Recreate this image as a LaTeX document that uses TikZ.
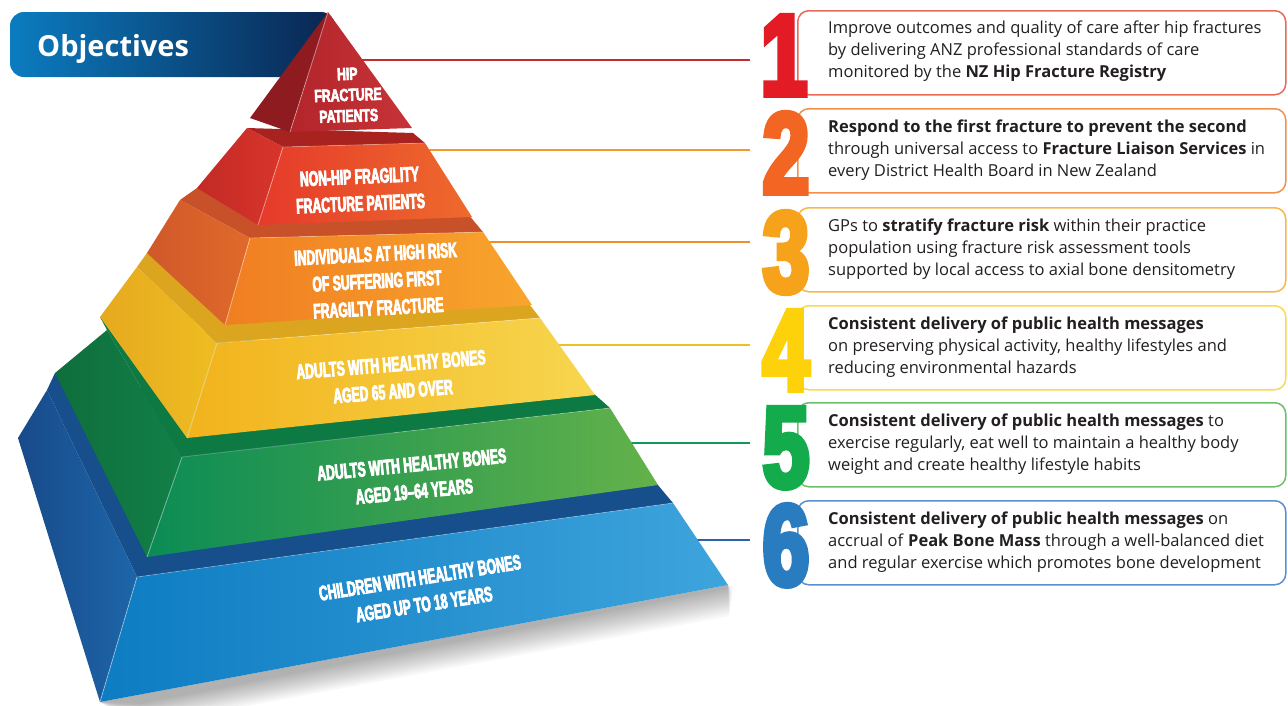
\documentclass[tikz,border=0pt]{standalone}
\usepackage{fontspec}
\setmainfont{Open Sans}
\newfontfamily\pyrfont[FakeStretch=0.58,FakeBold=3.5]{Liberation Sans}
\newfontfamily\pyrfontw[FakeStretch=0.7,FakeBold=3.5]{Liberation Sans}
\newfontfamily\numfont[FakeStretch=0.72,FakeBold=5]{Liberation Sans}
\definecolor{objL}{HTML}{0B7CC0}
\definecolor{objR}{HTML}{0A2550}
\definecolor{textc}{HTML}{231F20}
% tier colours
\definecolor{t1s}{HTML}{8E1B20}\definecolor{t1a}{HTML}{B3252B}\definecolor{t1b}{HTML}{C63438}
\definecolor{t2l}{HTML}{A82320}\definecolor{t2s}{HTML}{C22A26}\definecolor{t2t}{HTML}{D8352A}\definecolor{t2a}{HTML}{E53A2B}\definecolor{t2b}{HTML}{EE6A2C}
\definecolor{t3l}{HTML}{C9512A}\definecolor{t3s}{HTML}{D0582A}\definecolor{t3t}{HTML}{E06A2A}\definecolor{t3a}{HTML}{F07E22}\definecolor{t3b}{HTML}{F8A52D}
\definecolor{t4l}{HTML}{DBA520}\definecolor{t4s}{HTML}{E6A91F}\definecolor{t4t}{HTML}{EEBD22}\definecolor{t4a}{HTML}{F2B31C}\definecolor{t4b}{HTML}{F7D64F}
\definecolor{t5l}{HTML}{0D7A44}\definecolor{t5s}{HTML}{0F6E3C}\definecolor{t5t}{HTML}{128048}\definecolor{t5a}{HTML}{0B8C55}\definecolor{t5b}{HTML}{64B24A}
\definecolor{t6l}{HTML}{164F8C}\definecolor{t6s}{HTML}{184A8A}\definecolor{t6t}{HTML}{1D66A9}\definecolor{t6a}{HTML}{0D7CC2}\definecolor{t6b}{HTML}{3EA4DC}
% connector / number / border colours
\definecolor{c1}{HTML}{C62A2F}\definecolor{c2}{HTML}{F39A2A}\definecolor{c3}{HTML}{EF8F2B}
\definecolor{c4}{HTML}{F0C020}\definecolor{c5}{HTML}{14985A}\definecolor{c6}{HTML}{2A62AE}
\definecolor{n1}{HTML}{E21B25}\definecolor{n2}{HTML}{F26522}\definecolor{n3}{HTML}{F7A21B}
\definecolor{n4}{HTML}{FDD20A}\definecolor{n5}{HTML}{13AB4B}\definecolor{n6}{HTML}{2A7CC1}
\definecolor{b1}{HTML}{EA6A5A}\definecolor{b2}{HTML}{F3904A}\definecolor{b3}{HTML}{F7B84A}
\definecolor{b4}{HTML}{F9DA52}\definecolor{b5}{HTML}{6CC06A}\definecolor{b6}{HTML}{5C8FD0}
\begin{document}
\begin{tikzpicture}[x=1pt,y=-1pt,
  lbl/.style={text=white, font=\pyrfont\bfseries\fontsize{21}{27}\selectfont, align=center, inner sep=0},
  conn/.style={line width=2.2pt},
  obox/.style={rounded corners=11pt, line width=1.5pt, minimum width=488pt, minimum height=84pt, anchor=north west, inner sep=0},
  num/.style={font=\numfont\bfseries\fontsize{115}{115}\selectfont, inner sep=0, anchor=base},
  txt/.style={font=\fontsize{16.5}{22}\selectfont, align=left, inner sep=0, anchor=west, text=textc},
  hl/.style={white, opacity=0.45, line width=0.8pt}]
\useasboundingbox (0,0) rectangle (1288,705);
\fill[white] (0,0) rectangle (1288,705);

% ---------- banner ----------
\shade[left color=objL, right color=objR, rounded corners=14pt] (10,12) rectangle (335,77);
\node[font=\bfseries\fontsize{29}{29}\selectfont, text=white, anchor=base west, inner sep=0] (obj) at (37,56) {Objectives};

% ---------- connectors ----------
\coordinate (s1) at (350,60);  \coordinate (e1) at (750,60);
\coordinate (s2) at (420,150); \coordinate (e2) at (750,150);
\coordinate (s3) at (480,242); \coordinate (e3) at (750,242);
\coordinate (s4) at (550,345); \coordinate (e4) at (750,345);
\coordinate (s5) at (620,443); \coordinate (e5) at (750,443);
\coordinate (s6) at (690,540); \coordinate (e6) at (750,540);
\draw[conn, c1] (s1) -- (e1);
\draw[conn, c2] (s2) -- (e2);
\draw[conn, c3] (s3) -- (e3);
\draw[conn, c4] (s4) -- (e4);
\draw[conn, c5] (s5) -- (e5);
\draw[conn, c6] (s6) -- (e6);

% ---------- shadow ----------
\foreach \i in {1,...,12}
  \fill[black, opacity=0.028] (100,702) -- (728,585) -- (735-\i*0.5,585+\i*2.6) -- (140,702+\i*2) -- cycle;

% ---------- tier 6 ----------
\fill[t6l] (47,390) -- (55,373) -- (652,478) -- (673,503) -- (137,577) -- cycle;
\shade[left color=t6s, right color=t6t] (47,390) -- (137,577) -- (100,702) -- (18,438) -- cycle;
\shade[left color=t6a, right color=t6b] (137,577) -- (673,503) -- (728,585) -- (100,702) -- cycle;
\draw[hl] (137,577) -- (100,702);
\draw[hl, opacity=0.25] (137,577) -- (673,503);

% ---------- tier 5 ----------
\fill[t5l] (107,330) -- (100,317) -- (592,392) -- (610,408) -- (182,457) -- cycle;
\shade[left color=t5s, right color=t5t] (107,330) -- (182,457) -- (147,557) -- (55,373) -- cycle;
\shade[left color=t5a, right color=t5b] (182,457) -- (610,408) -- (658,485) -- (147,557) -- cycle;
\draw[hl] (182,457) -- (147,557);
\draw[hl, opacity=0.25] (182,457) -- (610,408);

% ---------- tier 4 ----------
\fill[t4l] (137,267) -- (147,253) -- (526,300) -- (540,318) -- (217,343) -- cycle;
\shade[left color=t4s, right color=t4t] (137,267) -- (217,343) -- (187,438) -- (100,317) -- cycle;
\shade[left color=t4a, right color=t4b] (217,343) -- (540,318) -- (595,395) -- (187,438) -- cycle;
\draw[hl] (217,343) -- (187,438);
\draw[hl, opacity=0.3] (217,343) -- (540,318);

% ---------- tier 3 ----------
\fill[t3l] (180,200) -- (197,188) -- (468,214) -- (483,232) -- (250,238) -- cycle;
\shade[left color=t3s, right color=t3t] (180,200) -- (250,238) -- (225,325) -- (147,253) -- cycle;
\shade[left color=t3a, right color=t3b] (250,238) -- (483,232) -- (532,305) -- (225,325) -- cycle;
\draw[hl] (250,238) -- (225,325);
\draw[hl, opacity=0.25] (250,238) -- (483,232);

% ---------- tier 2 ----------
\fill[t2l] (247,128) -- (413,133) -- (425,143) -- (283,147) -- cycle;
\shade[left color=t2s, right color=t2t] (247,128) -- (283,147) -- (258,225) -- (197,188) -- cycle;
\shade[left color=t2a, right color=t2b] (283,147) -- (425,143) -- (472,217) -- (258,225) -- cycle;
\draw[hl] (283,147) -- (258,225);
\draw[hl, opacity=0.25] (283,147) -- (425,143);

% ---------- tier 1 ----------
\fill[t1s] (328,12) -- (290,132) -- (250,118) -- cycle;
\shade[left color=t1a, right color=t1b] (328,12) -- (412,128) -- (290,132) -- cycle;
\draw[hl] (328,12) -- (290,132);

% ---------- tier labels ----------
\node[lbl, font=\pyrfontw\bfseries\fontsize{17.5}{21}\selectfont, rotate=2] (L1) at (348,95) {HIP\\FRACTURE\\PATIENTS};
\node[lbl, rotate=2.5] (L2) at (360,190) {NON-HIP FRAGILITY\\FRACTURE PATIENTS};
\node[lbl, rotate=3] (L3) at (377,281) {INDIVIDUALS AT HIGH RISK\\OF SUFFERING FIRST\\FRAGILTY FRACTURE};
\node[lbl, rotate=4.5] (L4) at (392,378) {ADULTS WITH HEALTHY BONES\\AGED 65 AND OVER};
\node[lbl, rotate=5.5] (L5) at (413,478) {ADULTS WITH HEALTHY BONES\\AGED 19–64 YEARS};
\node[lbl, rotate=9] (L6) at (422,591) {CHILDREN WITH HEALTHY BONES\\AGED UP TO 18 YEARS};

% ---------- objective boxes ----------
\node[obox, draw=b1] (B1) at (797,10) {};
\node[obox, draw=b2] (B2) at (797,108) {};
\node[obox, draw=b3] (B3) at (797,207) {};
\node[obox, draw=b4] (B4) at (797,305) {};
\node[obox, draw=b5] (B5) at (797,402) {};
\node[obox, draw=b6] (B6) at (797,500) {};

\node[num, text=n1] (N1) at (784,95) {1};
\node[num, text=n2] (N2) at (786,193) {2};
\node[num, text=n3] (N3) at (786,292) {3};
\node[num, text=n4] (N4) at (786,390) {4};
\node[num, text=n5] (N5) at (786,487) {5};
\node[num, text=n6] (N6) at (786,585) {6};

\node[txt] (T1) at (828,51) {Improve outcomes and quality of care after hip fractures\\by delivering ANZ professional standards of care\\monitored by the \textbf{NZ Hip Fracture Registry}};
\node[txt] (T2) at (828,150) {\textbf{Respond to the first fracture to prevent the second}\\through universal access to \textbf{Fracture Liaison Services} in\\every District Health Board in New Zealand};
\node[txt] (T3) at (828,249) {GPs to \textbf{stratify fracture risk} within their practice\\population using fracture risk assessment tools\\supported by local access to axial bone densitometry};
\node[txt] (T4) at (828,347) {\textbf{Consistent delivery of public health messages}\\on preserving physical activity, healthy lifestyles and\\reducing environmental hazards};
\node[txt] (T5) at (828,444) {\textbf{Consistent delivery of public health messages} to\\exercise regularly, eat well to maintain a healthy body\\weight and create healthy lifestyle habits};
\node[txt] (T6) at (828,542) {\textbf{Consistent delivery of public health messages} on\\accrual of \textbf{Peak Bone Mass} through a well-balanced diet\\and regular exercise which promotes bone development};
\end{tikzpicture}
\end{document}
